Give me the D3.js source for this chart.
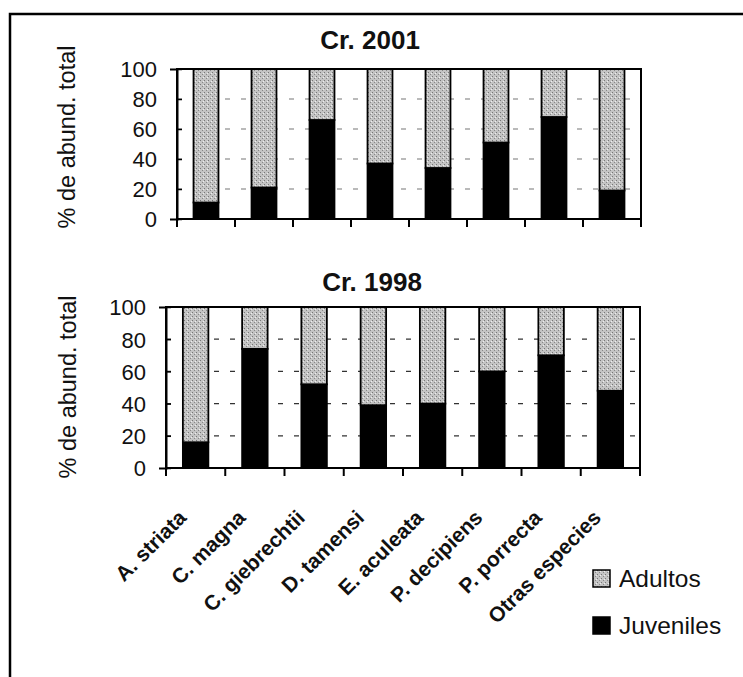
<!DOCTYPE html>
<html>
<head>
<meta charset="utf-8">
<script src="https://cdn.jsdelivr.net/npm/d3@7"></script>
<style>
body { margin: 0; background: #fff; }
svg text { font-family: "Liberation Sans", Arial, sans-serif; fill: #111; }
</style>
</head>
<body>
<svg id="chart" width="743" height="677"></svg>
<script>
'use strict';
// data
const species = ["A. striata", "C. magna", "C. giebrechtii", "D. tamensi",
	"E. aculeata", "P. decipiens", "P. porrecta", "Otras especies"]
const juv2001 = [11, 21, 66, 37, 34, 51, 68, 19]
const adu2001 = [89, 79, 34, 63, 66, 49, 32, 81]
const juv1998 = [16, 74, 52, 39, 40, 60, 70, 48]
const adu1998 = [84, 26, 48, 61, 60, 40, 30, 52]
const yTicks = [0, 20, 40, 60, 80, 100]
const seriesNames = ["Adultos", "Juveniles"]

let eSvg = d3.select("#chart")

// stippled grey fill for the adults
let ePat = eSvg.append("defs").append("pattern")
	.attr("id", "stipple")
	.attr("width", 4).attr("height", 4)
	.attr("patternUnits", "userSpaceOnUse")
ePat.append("rect").attr("width", 4).attr("height", 4).attr("fill", "#c4c4c4")
ePat.append("rect").attr("x", 0).attr("y", 0).attr("width", 1).attr("height", 1).attr("fill", "#777")
ePat.append("rect").attr("x", 2).attr("y", 2).attr("width", 1).attr("height", 1).attr("fill", "#888")
ePat.append("rect").attr("x", 3).attr("y", 1).attr("width", 1).attr("height", 1).attr("fill", "#eee")

let dFill = {"Adultos": "url(#stipple)", "Juveniles": "#000"}

// outer frame (only top and left survive in the scan)
eSvg.append("path")
	.attr("d", "M10,677V14H743")
	.attr("fill", "none").attr("stroke", "#000").attr("stroke-width", 2.5)

function drawPanel(p) {
	let x = d3.scaleBand().domain(species)
		.range([p.left, p.right]).paddingInner(0.57).paddingOuter(0.285)
	let y = d3.scaleLinear().domain([0, 100]).range([p.bottom, p.top])
	let g = eSvg.append("g")

	// dashed grid
	g.append("g").selectAll("line")
		.data(yTicks.filter(t => t > 0 && t < 100))
		.enter().append("line")
		.attr("x1", p.left).attr("x2", p.right)
		.attr("y1", d => y(d)).attr("y2", d => y(d))
		.attr("stroke", p.gridCol).attr("stroke-width", 1.2)
		.attr("stroke-dasharray", "5,11")

	// stacked bars
	let rows = species.map((s, i) => ({sp: s, Juveniles: p.juv[i], Adultos: p.adu[i]}))
	let stack = d3.stack().keys(["Juveniles", "Adultos"])(rows)
	g.append("g").selectAll("g")
		.data(stack).enter().append("g")
		.attr("fill", d => dFill[d.key])
		.selectAll("rect")
		.data(d => d).enter().append("rect")
		.attr("x", d => x(d.data.sp))
		.attr("width", x.bandwidth())
		.attr("y", d => y(d[1]))
		.attr("height", d => y(d[0]) - y(d[1]))
		.attr("stroke", "#000").attr("stroke-width", 1.8)

	// plot frame
	g.append("rect")
		.attr("x", p.left).attr("y", p.top)
		.attr("width", p.right - p.left).attr("height", p.bottom - p.top)
		.attr("fill", "none").attr("stroke", "#000").attr("stroke-width", 2)

	// y axis
	let yAx = g.append("g")
		.attr("transform", `translate(${p.left},0)`)
		.call(d3.axisLeft(y).tickValues(yTicks).tickSize(7).tickPadding(13))
	yAx.select(".domain").attr("stroke-width", 2)
	yAx.selectAll(".tick line").attr("x2", 5).attr("stroke-width", 1.5)
	yAx.selectAll(".tick text")
		.style("font-size", "22px").attr("fill", "#111")
		.attr("dy", "0.36em")

	// category boundary ticks on x
	g.append("g").selectAll("line")
		.data(d3.range(species.length + 1))
		.enter().append("line")
		.attr("x1", i => p.left + i * x.step())
		.attr("x2", i => p.left + i * x.step())
		.attr("y1", p.bottom).attr("y2", p.bottom + 8)
		.attr("stroke", "#000").attr("stroke-width", 2)

	// title
	g.append("text")
		.attr("x", p.titleX).attr("y", p.titleY)
		.attr("text-anchor", "middle")
		.style("font-size", "26px").style("font-weight", "bold")
		.text(p.title)

	// y label
	g.append("text")
		.attr("transform", `translate(${p.labelX},${p.labelY}) rotate(-90)`)
		.attr("text-anchor", "middle")
		.style("font-size", "23.5px")
		.text("% de abund. total")

	return x
}

drawPanel({title: "Cr. 2001", juv: juv2001, adu: adu2001,
	left: 177, right: 641, top: 69, bottom: 219,
	titleX: 370, titleY: 49, labelX: 75, labelY: 137, gridCol: "#777"})

let xLow = drawPanel({title: "Cr. 1998", juv: juv1998, adu: adu1998,
	left: 166, right: 640, top: 307, bottom: 468,
	titleX: 372, titleY: 291, labelX: 76, labelY: 387, gridCol: "#333"})

// rotated species names under the lower panel
eSvg.append("g").selectAll("text")
	.data(species).enter().append("text")
	.attr("transform", d => `translate(${xLow(d) + xLow.bandwidth() / 2 - 8},519) rotate(-45)`)
	.attr("text-anchor", "end")
	.style("font-size", "21px").style("font-weight", "bold")
	.text(d => d)

// legend
let eLeg = eSvg.append("g").selectAll("g")
	.data(seriesNames).enter().append("g")
	.attr("transform", (d, i) => `translate(593,${570 + i * 47})`)
eLeg.append("rect")
	.attr("width", 17).attr("height", 17)
	.attr("fill", d => dFill[d]).attr("stroke", "#000").attr("stroke-width", 1.5)
eLeg.append("text")
	.attr("x", 26).attr("y", 17)
	.style("font-size", "24.5px")
	.text(d => d)
</script>
</body>
</html>
